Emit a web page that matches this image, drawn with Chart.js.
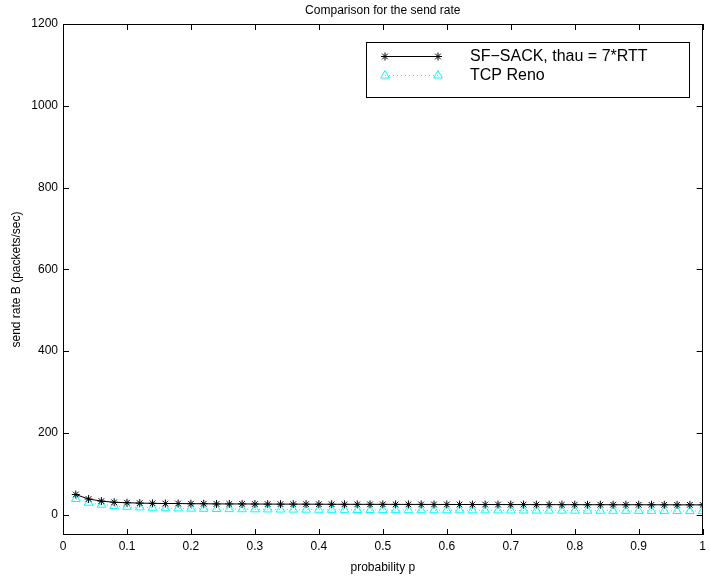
<!DOCTYPE html>
<html><head><meta charset="utf-8">
<script src="https://cdn.jsdelivr.net/npm/chart.js@4.4.0/dist/chart.umd.min.js"></script>
<style>html,body{margin:0;padding:0;background:#fff}#wrap{width:710px;height:577px}</style>
</head><body><div id="wrap"><canvas id="c" width="710" height="577"></canvas></div>
<script>
const pValues = [0.02,0.04,0.06,0.08,0.10,0.12,0.14,0.16,0.18,0.20,0.22,0.24,0.26,0.28,0.30,0.32,0.34,0.36,0.38,0.40,0.42,0.44,0.46,0.48,0.50,0.52,0.54,0.56,0.58,0.60,0.62,0.64,0.66,0.68,0.70,0.72,0.74,0.76,0.78,0.80,0.82,0.84,0.86,0.88,0.90,0.92,0.94,0.96,0.98,1.00];
const sackRate = [49,38,33,30,29,28,27.5,27,27,26.5,26.5,26,26,26,25.8,25.6,25.5,25.5,25.4,25.3,25.2,25.1,25,25,25,24.9,24.8,24.8,24.7,24.7,24.6,24.6,24.5,24.5,24.4,24.4,24.3,24.3,24.2,24.2,24.1,24.1,24,24,24,23.9,23.9,23.8,23.8,23.7];
const renoRate = [38,29,24,21,19,17.5,16.5,15.5,15,14.5,14,13.6,13.3,13,12.8,12.5,12.3,12.1,11.9,11.7,11.5,11.4,11.2,11.1,11,10.9,10.8,10.7,10.6,10.5,10.4,10.3,10.2,10.1,10,9.9,9.8,9.7,9.6,9.5,9.4,9.3,9.2,9.1,9,8.9,8.8,8.7,8.6,8.5];
const xTicks = [0,0.1,0.2,0.3,0.4,0.5,0.6,0.7,0.8,0.9,1];
const yTicks = [0,200,400,600,800,1000,1200];
const seriesLabels = ["SF\u2212SACK, thau = 7*RTT","TCP Reno"];
const titleText = "Comparison for the send rate";
const FONT = "'Liberation Sans', Arial, Helvetica, sans-serif";

const framePlugin = {
  id:'frame',
  afterDraw(chart){
    const {ctx, chartArea:a, scales:{x,y}} = chart;
    ctx.save();
    ctx.strokeStyle='#000'; ctx.lineWidth=1;
    ctx.strokeRect(Math.round(a.left)+0.5, Math.round(a.top)+0.5, Math.round(a.right-a.left)-1, Math.round(a.bottom-a.top)-1);
    const L=6;
    ctx.beginPath();
    xTicks.forEach(v=>{const px=Math.round(x.getPixelForValue(v))+0.5;
      ctx.moveTo(px,a.bottom); ctx.lineTo(px,a.bottom-L);
      ctx.moveTo(px,a.top); ctx.lineTo(px,a.top+L);});
    yTicks.forEach(v=>{const py=Math.round(y.getPixelForValue(v))+0.5;
      ctx.moveTo(a.left,py); ctx.lineTo(a.left+L,py);
      ctx.moveTo(a.right,py); ctx.lineTo(a.right-L,py);});
    ctx.stroke();
    // title
    ctx.fillStyle='#000'; ctx.font='12px '+FONT; ctx.textAlign='center'; ctx.textBaseline='middle';
    ctx.fillText(titleText,(a.left+a.right)/2,11);
    // legend
    const bx=366.5, by=42.5, bw=323, bh=55;
    ctx.fillStyle='#fff'; ctx.fillRect(bx,by,bw,bh);
    ctx.strokeRect(bx,by,bw,bh);
    const ds=chart.data.datasets;
    const rows=[56,75];
    ds.forEach((d,i)=>{
      const yy=rows[i]+0.5;
      ctx.save();
      ctx.strokeStyle=d.borderColor; ctx.lineWidth=1;
      ctx.setLineDash(d.borderDash||[]);
      ctx.beginPath(); ctx.moveTo(385,yy); ctx.lineTo(438,yy); ctx.stroke();
      ctx.setLineDash([]);
      ctx.fillStyle=d.pointBackgroundColor; ctx.strokeStyle=d.pointBorderColor;
      [385,438].forEach(px=>Chart.helpers.drawPoint(ctx,{pointStyle:d.pointStyle,radius:d.pointRadius,borderWidth:1,rotation:0},px,yy));
      ctx.restore();
      ctx.fillStyle='#000'; ctx.font='16px '+FONT; ctx.textAlign='left'; ctx.textBaseline='middle';
      ctx.fillText(d.label,470,rows[i]+1);
    });
    ctx.restore();
  }
};

new Chart(document.getElementById('c'),{
  type:'line',
  data:{datasets:[
    {label:seriesLabels[0],data:pValues.map((p,i)=>({x:p,y:sackRate[i]})),borderColor:'#000',backgroundColor:'#000',borderWidth:1,pointStyle:'star',pointRadius:4,pointBorderColor:'#000',pointBackgroundColor:'#000',pointBorderWidth:1,tension:0},
    {label:seriesLabels[1],data:pValues.map((p,i)=>({x:p,y:renoRate[i]})),borderColor:'#00ffff',backgroundColor:'rgba(0,0,0,0)',borderWidth:1,borderDash:[1,3],pointStyle:'triangle',pointRadius:5,pointBorderColor:'#00ffff',pointBackgroundColor:'rgba(0,0,0,0)',pointBorderWidth:1,tension:0}
  ]},
  options:{
    responsive:false,animation:false,
    layout:{padding:{top:24,right:4,left:0,bottom:0}},
    plugins:{legend:{display:false},title:{display:false},tooltip:{enabled:false}},
    scales:{
      x:{type:'linear',min:0,max:1,
        afterBuildTicks(s){s.ticks=xTicks.map(v=>({value:v}));},
        afterFit(s){s.height=42;},
        ticks:{color:'#000',font:{family:FONT,size:12},padding:4,maxRotation:0,callback:v=>String(+v.toFixed(1))},
        grid:{display:false,drawTicks:false},border:{display:false},
        title:{display:true,text:'probability p',color:'#000',font:{family:FONT,size:12},padding:{top:0,bottom:2}}},
      y:{type:'linear',min:-50,max:1200,
        afterBuildTicks(s){s.ticks=yTicks.map(v=>({value:v}));},
        afterFit(s){s.width=63;},
        ticks:{color:'#000',font:{family:FONT,size:12},padding:5,callback:v=>String(v)},
        grid:{display:false,drawTicks:false},border:{display:false},
        title:{display:true,text:'send rate B (packets/sec)',color:'#000',font:{family:FONT,size:12},padding:{top:9,bottom:0}}}
    }
  },
  plugins:[framePlugin]
});
</script></body></html>
